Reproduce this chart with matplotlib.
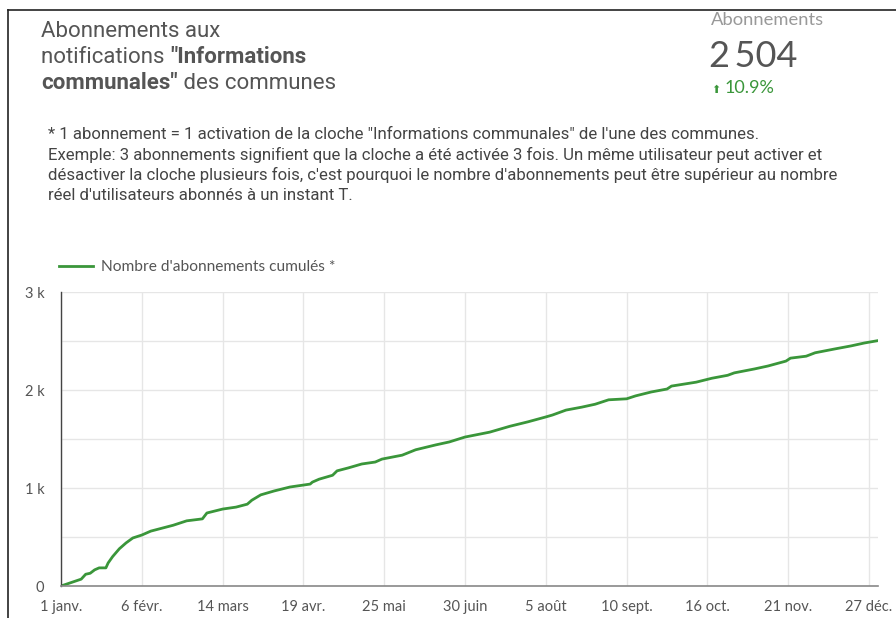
import matplotlib.pyplot as plt
from matplotlib.lines import Line2D
import numpy as np

# day of year (0 = 1 janv.) and cumulative subscriptions
days = [0, 9, 11, 13, 15, 17, 20, 21, 23, 26, 29, 32, 36, 40, 45, 50, 56, 63, 65,
        72, 78, 83, 85, 89, 95, 102, 108, 111, 112, 115, 121, 123, 128, 134, 140,
        143, 152, 158, 167, 173, 180, 191, 200, 208, 216, 219, 225, 232, 238, 244,
        252, 256, 263, 270, 272, 283, 290, 297, 300, 309, 315, 323, 325, 332, 336,
        345, 352, 358, 364]
cumul = [0, 70, 120, 130, 165, 185, 185, 235, 300, 380, 440, 490, 520, 560, 590,
         620, 665, 685, 745, 785, 805, 835, 875, 930, 970, 1010, 1030, 1040, 1060,
         1090, 1130, 1175, 1205, 1245, 1265, 1295, 1335, 1390, 1440, 1470, 1520,
         1570, 1630, 1675, 1725, 1745, 1795, 1825, 1855, 1900, 1910, 1940, 1980,
         2010, 2040, 2080, 2120, 2150, 2175, 2215, 2245, 2295, 2325, 2345, 2380,
         2420, 2450, 2480, 2504]

tick_days = [0, 36, 72, 108, 144, 180, 216, 252, 288, 324, 360]
tick_labels = ['1 janv.', '6 févr.', '14 mars', '19 avr.', '25 mai', '30 juin',
               '5 août', '10 sept.', '16 oct.', '21 nov.', '27 déc.']
y_ticks = [0, 1000, 2000, 3000]
y_labels = ['0', '1 k', '2 k', '3 k']

green = '#3a963a'
grey = '#555555'

fig = plt.figure(figsize=(8.96, 6.18), dpi=100)
W, H = 896, 618

def fx(px):
    return px / W

def fy(py):
    return 1 - py / H

# chart
ax = fig.add_axes([fx(61), fy(586), fx(878) - fx(61), fy(292) - fy(586)])
ax.plot(days, cumul, color=green, lw=2, label="Nombre d'abonnements cumulés *")
ax.set_xlim(0, 364)
ax.set_ylim(0, 3000)
ax.set_xticks(tick_days)
ax.set_xticklabels(tick_labels)
ax.set_yticks(y_ticks)
ax.set_yticklabels(y_labels)
ax.set_yticks(np.arange(0, 3001, 500), minor=True)
ax.grid(True, which='both', color='#e6e6e6', lw=1)
ax.grid(False, axis='x', which='minor')
ax.set_axisbelow(True)
ax.tick_params(length=0, labelsize=10.5, labelcolor=grey, which='both')
for lab in ax.get_xticklabels() + ax.get_yticklabels():
    lab.set_family('Lato')
ax.tick_params(axis='x', pad=10)
ax.tick_params(axis='y', pad=12)
for s in ['top', 'right']:
    ax.spines[s].set_visible(False)
ax.spines['left'].set_color('#444444')
ax.spines['bottom'].set_color('#888888')
ax.spines['left'].set_linewidth(1)
ax.spines['bottom'].set_linewidth(1.2)

leg = ax.legend(loc='lower left', bbox_to_anchor=(fx(59), fy(274)),
                bbox_transform=fig.transFigure, frameon=False,
                prop={'family': 'Lato', 'size': 11.2}, handlelength=2.2,
                handletextpad=0.5, borderaxespad=0, borderpad=0)
for t in leg.get_texts():
    t.set_color(grey)

# frame of the card
fig.add_artist(Line2D([fx(8), fx(8)], [fy(10), 0], color='#222222', lw=1.2))
fig.add_artist(Line2D([fx(8), 1], [fy(10), fy(10)], color='#222222', lw=1.2))

# title with bold part
tkw = dict(fontsize=16, color=grey, family='Roboto', va='baseline')
fig.text(fx(41), fy(37), 'Abonnements aux', **tkw)
t1 = fig.text(fx(41), fy(63), 'notifications ', **tkw)
ax.annotate('"Informations', xy=(1, 0), xycoords=t1, va='bottom', ha='left',
            fontsize=16, color=grey, family='Roboto', fontweight='bold',
            annotation_clip=False)
t2 = fig.text(fx(41), fy(89), 'communales"', fontweight='bold', **tkw)
ax.annotate(' des communes', xy=(1, 0), xycoords=t2, va='bottom', ha='left',
            fontsize=16, color=grey, family='Roboto', annotation_clip=False)

# KPI
fig.text(fx(711), fy(25), 'Abonnements', fontsize=13.2, color='#999999', family='Lato', va='baseline')
fig.text(fx(709), fy(67), '2\u2009504', fontsize=26, color=grey,
         family=['Lato', 'DejaVu Sans'], va='baseline')
fig.text(fx(711), fy(93), '\u2B06', fontsize=8, color=green, family='DejaVu Sans', va='baseline')
fig.text(fx(725), fy(93), '10.9%', fontsize=13, color=green, family='Lato', va='baseline')

# footnote
note = ('* 1 abonnement = 1 activation de la cloche "Informations communales" de l\'une des communes.\n'
        'Exemple: 3 abonnements signifient que la cloche a été activée 3 fois. Un même utilisateur peut activer et\n'
        'désactiver la cloche plusieurs fois, c\'est pourquoi le nombre d\'abonnements peut être supérieur au nombre\n'
        'réel d\'utilisateurs abonnés à un instant T.')
fig.text(fx(48), fy(127), note, fontsize=12.1, color='#444444', family='Roboto',
         va='top', linespacing=1.36)

fig.savefig('out.png', dpi=100)
